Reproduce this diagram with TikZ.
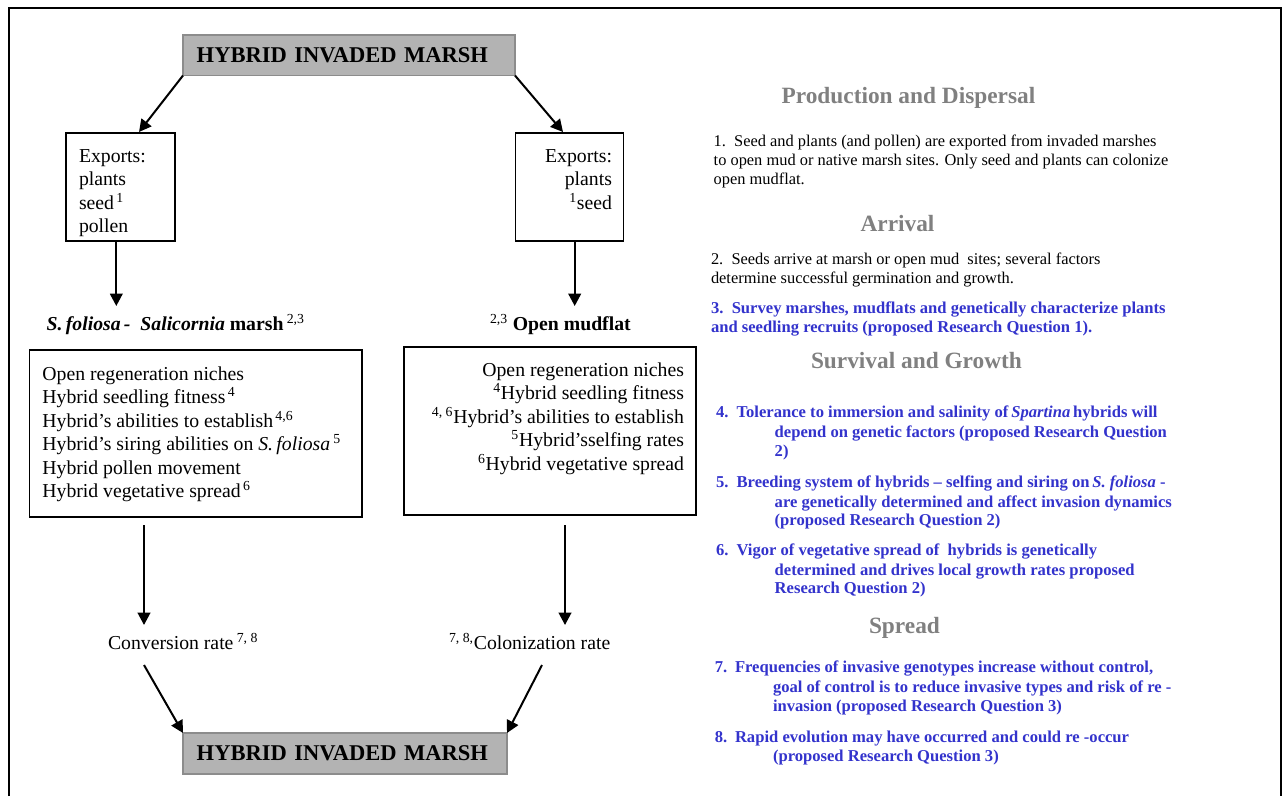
\documentclass[tikz,border=0pt]{standalone}
\usepackage{fontspec}
\setmainfont{Liberation Serif}
\usetikzlibrary{arrows.meta,calc}
\definecolor{itemblue}{RGB}{51,51,204}
\definecolor{headgray}{RGB}{128,128,128}
\definecolor{boxgray}{RGB}{179,179,179}
\definecolor{boxedge}{RGB}{140,140,140}
\begin{document}
\begin{tikzpicture}[x=0.75pt,y=-0.75pt,
  every node/.style={inner sep=0pt, outer sep=0pt},
  diag/.style={font=\fontsize{14.8}{17}\selectfont},
  titlebox/.style={draw=boxedge, fill=boxgray, line width=0.8pt,
    font=\fontsize{16.9}{20}\selectfont\bfseries, align=left, inner xsep=10.3pt, inner ysep=0pt},
  linebox/.style={draw=black, line width=0.9pt},
  para/.style={font=\fontsize{12.3}{14}\selectfont, anchor=base west},
  blueitem/.style={font=\fontsize{12.45}{14}\selectfont\bfseries, text=itemblue, anchor=base west},
  heading/.style={font=\fontsize{17.5}{20}\selectfont\bfseries, text=headgray, anchor=base west},
  arr/.style={line width=1.5pt, -{Triangle[length=9.2pt,width=9.4pt]}},
]
\useasboundingbox (0,0) rectangle (1285,796);
% outer frame
\draw[line width=1.5pt] (9,796) -- (9,8) -- (1281,8) -- (1281,796);

% ---------- left diagram ----------
\node[titlebox, text width=228.4pt, minimum height=30.4pt] (top) at (349,55.25) {HYBRID INVADED MARSH};
\node[titlebox, text width=222.4pt, minimum height=30.75pt] (bot) at (345,753.5) {HYBRID INVADED MARSH};

\node[linebox, minimum width=81.75pt, minimum height=81pt] (expL) at (120.5,187) {};
\node[linebox, minimum width=81pt, minimum height=81pt] (expR) at (569.5,187) {};
\node[linebox, minimum width=249.4pt, minimum height=125.25pt] (boxL) at (195.75,433.5) {};
\node[linebox, minimum width=219pt, minimum height=126pt] (boxR) at (550,431) {};

\foreach \t [count=\i] in {Exports:, plants, seed\textsuperscript{\,1}, pollen}
  \node[diag, anchor=base west] (expLt\i) at (79,{162+(\i-1)*23.5}) {\t};
\foreach \t [count=\i] in {Exports:, plants, \textsuperscript{1}seed}
  \node[diag, anchor=base east] (expRt\i) at (612,{162+(\i-1)*23.5}) {\t};

\node[diag, anchor=base west] (lblL) at (46.7,330)
  {\textbf{\textit{S.\,foliosa\,-\ \ Salicornia} marsh}\,\textsuperscript{2,3}};
\node[diag, anchor=base west] (lblR) at (490,330)
  {\textsuperscript{2,3} \textbf{Open mudflat}};

\foreach \t [count=\i] in {Open regeneration niches,
    Hybrid seedling fitness\textsuperscript{\,4},
    {Hybrid’s abilities to establish\textsuperscript{\,4,6}},
    Hybrid’s siring abilities on \textit{S.\,foliosa}\,\textsuperscript{5},
    Hybrid pollen movement,
    Hybrid vegetative spread\textsuperscript{\,6}}
  \node[diag, anchor=base west] (boxLt\i) at (42.4,{380+(\i-1)*23.5}) {\t};
\foreach \t [count=\i] in {Open regeneration niches,
    \textsuperscript{4}Hybrid seedling fitness,
    {\textsuperscript{4, 6}Hybrid’s abilities to establish},
    \textsuperscript{5}Hybrid’sselfing rates,
    \textsuperscript{6}Hybrid vegetative spread}
  \node[diag, anchor=base east] (boxRt\i) at (684,{376+(\i-1)*23.5}) {\t};

\node[diag, anchor=base west] (rateL) at (108,649) {Conversion rate\,\textsuperscript{7, 8}};
\node[diag, anchor=base west] (rateR) at (449,649) {\textsuperscript{7, 8,}Colonization rate};

\draw[arr] (top.south west) -- ($(expL.north)+(18.5,-1)$);
\draw[arr] (top.south east) -- ($(expR.north)+(-6.5,-1)$);
\draw[arr] ($(expL.south)+(-4.2,0)$) -- ($(expL.south)+(-4.2,65)$);
\draw[arr] ($(expR.south)+(5.2,0)$) -- ($(expR.south)+(5.2,65)$);
\draw[arr] ($(boxL.south)+(-51.75,8)$) -- ($(boxL.south)+(-51.75,108)$);
\draw[arr] ($(boxR.south)+(15,10)$) -- ($(boxR.south)+(15,110)$);
\draw[arr] ($(rateL.base west)+(36,16)$) -- (bot.north west);
\draw[arr] ($(rateR.base west)+(93,16)$) -- (bot.north east);

% ---------- right text ----------
\node[heading] (h1) at (781.6,103) {Production and Dispersal};
\node[para] (p1a) at (713.7,146) {1.\ \ Seed and plants (and pollen) are exported from invaded marshes};
\node[para] (p1b) at (713.7,165) {to open mud or native marsh sites. Only seed and plants can colonize};
\node[para] (p1c) at (713.7,184) {open mudflat.};

\node[heading] (h2) at (860.6,231.7) {Arrival};
\node[para] (p2a) at (711,264) {2.\ \ Seeds arrive at marsh or open mud\ \ sites; several factors};
\node[para] (p2b) at (711,283) {determine successful germination and growth.};
\node[blueitem] (p3a) at (711,313) {3.\ \ Survey marshes, mudflats and genetically characterize plants};
\node[blueitem] (p3b) at (711,332) {and seedling recruits (proposed Research Question 1).};

\node[heading] (h3) at (811,368) {Survival and Growth};
\node[blueitem] (n4) at (716,417) {4.};
\node[blueitem] (p4a) at (736.6,417) {Tolerance to immersion and salinity of\,\textit{Spartina}\,hybrids will};
\node[blueitem] (p4b) at (774.7,437) {depend on genetic factors (proposed Research Question};
\node[blueitem] (p4c) at (774.7,456) {2)};
\node[blueitem] (n5) at (716,487) {5.};
\node[blueitem] (p5a) at (736.6,487) {Breeding system of hybrids – selfing and siring on\,\textit{S. foliosa} -};
\node[blueitem] (p5b) at (774.7,507) {are genetically determined and affect invasion dynamics};
\node[blueitem] (p5c) at (774.7,525) {(proposed Research Question 2)};
\node[blueitem] (n6) at (716,555) {6.};
\node[blueitem] (p6a) at (736.6,555) {Vigor of vegetative spread of\ \ hybrids is genetically};
\node[blueitem] (p6b) at (774.7,575) {determined and drives local growth rates proposed};
\node[blueitem] (p6c) at (774.7,593) {Research Question 2)};

\node[heading] (h4) at (869,633) {Spread};
\node[blueitem] (n7) at (714.8,672) {7.};
\node[blueitem] (p7a) at (735,672) {Frequencies of invasive genotypes increase without control,};
\node[blueitem] (p7b) at (773,692) {goal of control is to reduce invasive types and risk of re -};
\node[blueitem] (p7c) at (773,711) {invasion (proposed Research Question 3)};
\node[blueitem] (n8) at (714.8,742) {8.};
\node[blueitem] (p8a) at (735,742) {Rapid evolution may have occurred and could re -occur};
\node[blueitem] (p8b) at (773,761) {(proposed Research Question 3)};
\end{tikzpicture}
\end{document}
